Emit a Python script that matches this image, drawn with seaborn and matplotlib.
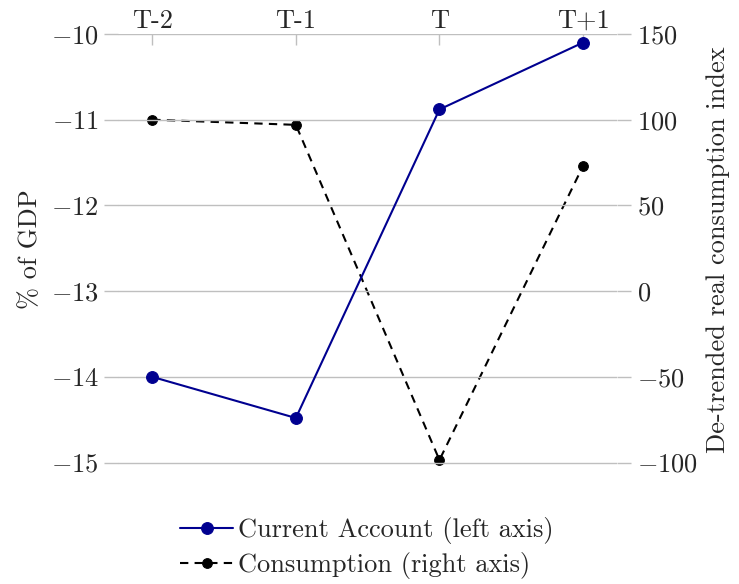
import matplotlib
matplotlib.use("Agg")
import matplotlib.pyplot as plt
import seaborn as sns
import pandas as pd

# data
periods = ["T-2", "T-1", "T", "T+1"]
current_account = [-14.0, -14.48, -10.88, -10.1]
consumption = [100, 97, -98.5, 73]

left_ticks = [-10, -11, -12, -13, -14, -15]
right_ticks = [150, 100, 50, 0, -50, -100]

sns.set_theme(style="white")
plt.rcParams["font.family"] = ["cmr10"]
plt.rcParams["mathtext.fontset"] = "cm"
plt.rcParams["axes.formatter.use_mathtext"] = True
plt.rcParams["axes.unicode_minus"] = True

df = pd.DataFrame({
    "pos": range(len(periods)),
    "period": periods,
    "ca": current_account,
    "cons": consumption,
})

fig = plt.figure(figsize=(7.39, 5.84), dpi=100)
ax = fig.add_axes([0.160, 0.2035, 0.675, 0.7383])
ax2 = ax.twinx()

grid_col = "#bfbfbf"
fs = 19

# consumption on the right axis (drawn underneath)
sns.lineplot(data=df, x="pos", y="cons", ax=ax2, color="black",
             linestyle=(0, (4, 3)), linewidth=1.5, marker="o", markersize=7,
             markeredgecolor="black", label="Consumption (right axis)",
             legend=False, clip_on=False)
# current account on the left axis
sns.lineplot(data=df, x="pos", y="ca", ax=ax, color="#000090",
             linewidth=1.5, marker="o", markersize=8.5,
             markeredgecolor="#000090", label="Current Account (left axis)",
             legend=False, clip_on=False)

ax.set_zorder(ax2.get_zorder() + 1)
ax.patch.set_visible(False)

ax.set_xlim(-0.237, 3.237)
ax.set_ylim(-15.03, -10)
ax2.set_ylim(-101.5, 150)

ax.set_yticks(left_ticks)
ax2.set_yticks(right_ticks)
ax.yaxis.grid(True, color=grid_col, linewidth=1)

ax.set_xticks(df["pos"])
ax.set_xticklabels(periods)
ax.xaxis.tick_top()
ax.tick_params(axis="x", direction="in", length=8, color=grid_col, width=1,
               labelsize=fs, pad=1, top=True, bottom=False)
ax.tick_params(axis="y", direction="out", length=10, color=grid_col, width=1,
               labelsize=fs, pad=4, left=True)
ax2.tick_params(axis="y", direction="out", length=10, color=grid_col, width=1,
                labelsize=fs, pad=4, right=True)

for a in (ax, ax2):
    for s in a.spines.values():
        s.set_visible(False)

ax.set_xlabel("")
ax.set_ylabel("% of GDP", fontsize=fs, labelpad=6)
ax2.set_ylabel("De-trended real consumption index", fontsize=fs, labelpad=6)

h1, l1 = ax.get_legend_handles_labels()
h2, l2 = ax2.get_legend_handles_labels()
fig.legend(h1 + h2, l1 + l2, loc="center", bbox_to_anchor=(0.497, 0.062),
           frameon=False, fontsize=fs, handlelength=2.0, handletextpad=0.2,
           labelspacing=0.3)

fig.savefig("out.png", dpi=100)
